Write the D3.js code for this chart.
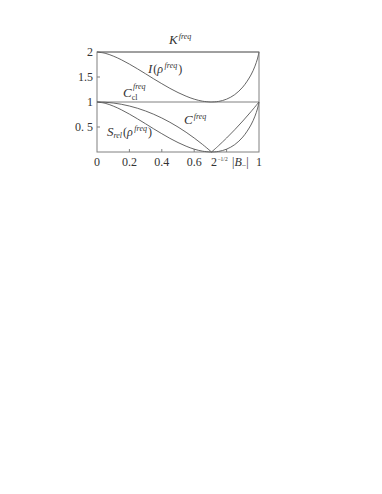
<!DOCTYPE html>
<html>
<head>
<meta charset="utf-8">
<script src="https://cdn.jsdelivr.net/npm/d3@7"></script>
<style>
  body { margin: 0; background: #fff; }
  text { font-family: "Liberation Serif", "DejaVu Serif", serif; fill: #333; }
</style>
</head>
<body>
<div id="vis"></div>
<script>
// |B_-| sample points
var bGrid = [0, 0.05, 0.1, 0.15, 0.2, 0.25, 0.3, 0.35, 0.4, 0.45, 0.5, 0.55, 0.6, 0.65, 0.7,
  0.7071, 0.75, 0.8, 0.85, 0.9, 0.95, 0.975, 0.99, 1];
// I(rho^freq)
var iValues = [2, 1.975, 1.919, 1.845, 1.758, 1.663, 1.564, 1.463, 1.366, 1.273, 1.189, 1.116,
  1.057, 1.017, 1.0, 1.0, 1.011, 1.057, 1.147, 1.299, 1.539, 1.716, 1.859, 2];
// S_rel(rho^freq)
var sValues = [1, 0.975, 0.919, 0.845, 0.758, 0.663, 0.564, 0.463, 0.366, 0.273, 0.189, 0.116,
  0.057, 0.017, 0.0, 0.0, 0.011, 0.057, 0.147, 0.299, 0.539, 0.716, 0.859, 1];
// C^freq, split at the kink
var cLeftB = [0, 0.05, 0.1, 0.15, 0.2, 0.25, 0.3, 0.35, 0.4, 0.45, 0.5, 0.55, 0.6, 0.65, 0.7, 0.7071];
var cLeft = [1, 0.995, 0.98, 0.955, 0.92, 0.875, 0.82, 0.755, 0.68, 0.595, 0.5, 0.395, 0.28, 0.155, 0.02, 0];
var cRightB = [0.7071, 0.75, 0.8, 0.85, 0.9, 0.95, 1];
var cRight = [0, 0.125, 0.28, 0.445, 0.62, 0.805, 1];
// constant levels
var kFreq = 2;
var cClFreq = 1;

var xTicks = [0.2, 0.4, 0.6, 0.8];
var xTickLabels = [{v: 0, t: '0'}, {v: 0.2, t: '0.2'}, {v: 0.4, t: '0.4'}, {v: 0.6, t: '0.6'}, {v: 1, t: '1'}];
var yTicks = [0.5, 1.5];
var yTickLabels = [{v: 0.5, t: '0. 5'}, {v: 1, t: '1'}, {v: 1.5, t: '1.5'}, {v: 2, t: '2'}];

var width = 382;
var height = 494;

var svg = d3.select('#vis').append('svg')
  .attr('width', width)
  .attr('height', height);

var x = d3.scaleLinear().domain([0, 1]).range([97, 259]);
var y = d3.scaleLinear().domain([0, 2]).range([152, 52]);

var frame = '#808080';
var ink = '#555';

// frame
svg.append('rect')
  .attr('x', x(0)).attr('y', y(2))
  .attr('width', x(1) - x(0)).attr('height', y(0) - y(2))
  .attr('fill', 'none').attr('stroke', frame).attr('stroke-width', 1);

// K^freq and C_cl^freq constant lines
[kFreq, cClFreq].forEach(function(v) {
  svg.append('line')
    .attr('x1', x(0)).attr('x2', x(1))
    .attr('y1', y(v)).attr('y2', y(v))
    .attr('stroke', frame).attr('stroke-width', 1);
});

// ticks (inward)
svg.selectAll('.xt').data(xTicks).enter().append('line')
  .attr('x1', d => x(d)).attr('x2', d => x(d))
  .attr('y1', y(0)).attr('y2', y(0) - 3)
  .attr('stroke', frame);
svg.selectAll('.yt').data(yTicks).enter().append('line')
  .attr('x1', x(0)).attr('x2', x(0) + 3)
  .attr('y1', d => y(d)).attr('y2', d => y(d))
  .attr('stroke', frame);

var line = d3.line()
  .x(d => x(d[0]))
  .y(d => y(d[1]))
  .curve(d3.curveCatmullRom);

function drawCurve(bs, vs) {
  svg.append('path')
    .datum(d3.zip(bs, vs))
    .attr('d', line)
    .attr('fill', 'none')
    .attr('stroke', ink)
    .attr('stroke-width', 0.9);
}

drawCurve(bGrid, iValues);
drawCurve(bGrid, sValues);
drawCurve(cLeftB, cLeft);
drawCurve(cRightB, cRight);

// tick labels
svg.selectAll('.xl').data(xTickLabels).enter().append('text')
  .attr('x', d => x(d.v)).attr('y', 166)
  .attr('text-anchor', 'middle')
  .style('font-size', '12px')
  .text(d => d.t);

svg.selectAll('.yl').data(yTickLabels).enter().append('text')
  .attr('x', 93).attr('y', d => y(d.v) + 4)
  .attr('text-anchor', 'end')
  .style('font-size', '12px')
  .text(d => d.t);

// 2^{-1/2}
var t2 = svg.append('text').attr('x', 211).attr('y', 166).style('font-size', '12px');
t2.append('tspan').text('2');
t2.append('tspan').attr('dx', 0.5).attr('dy', -5).style('font-size', '5.5px').text('−1/2');

// |B_-|
var tb = svg.append('text').attr('x', 232).attr('y', 166).style('font-size', '12px');
tb.append('tspan').text('|');
tb.append('tspan').style('font-style', 'italic').text('B');
tb.append('tspan').attr('dy', 2).style('font-size', '8px').text('−');
tb.append('tspan').attr('dy', -2).text('|');

// curve labels
function label(px, py, parts) {
  var t = svg.append('text').attr('x', px).attr('y', py).style('font-size', '12px');
  parts.forEach(function(p) {
    var s = t.append('tspan').text(p.t);
    if (p.dy) s.attr('dy', p.dy);
    if (p.dx) s.attr('dx', p.dx);
    if (p.size) s.style('font-size', p.size);
    if (p.it) s.style('font-style', 'italic');
  });
  return t;
}

label(169, 44, [{t: 'K', it: 1, size: '13px'}, {t: 'freq', it: 1, size: '8px', dy: -5, dx: 1}]);
label(148, 73, [{t: 'I', it: 1, size: '13px'}, {t: '(', dx: 1}, {t: 'ρ', it: 1},
  {t: 'freq', it: 1, size: '8px', dy: -5, dx: 1.5}, {t: ')', dy: 5, dx: 1}]);
label(123, 97, [{t: 'C', it: 1, size: '13px'}, {t: 'cl', size: '8px', dy: 3}]);
svg.append('text').attr('x', 133).attr('y', 89).style('font-size', '8px')
  .style('font-style', 'italic').text('freq');
label(184, 124, [{t: 'C', it: 1, size: '13px'}, {t: 'freq', it: 1, size: '8px', dy: -5, dx: 1}]);
label(107, 136, [{t: 'S', it: 1, size: '13px'}, {t: 'rel', it: 1, size: '8px', dy: 2}, {t: '(', dy: -2, dx: 1},
  {t: 'ρ', it: 1}, {t: 'freq', it: 1, size: '8px', dy: -5, dx: 1.5}, {t: ')', dy: 5, dx: 1}]);
</script>
</body>
</html>
